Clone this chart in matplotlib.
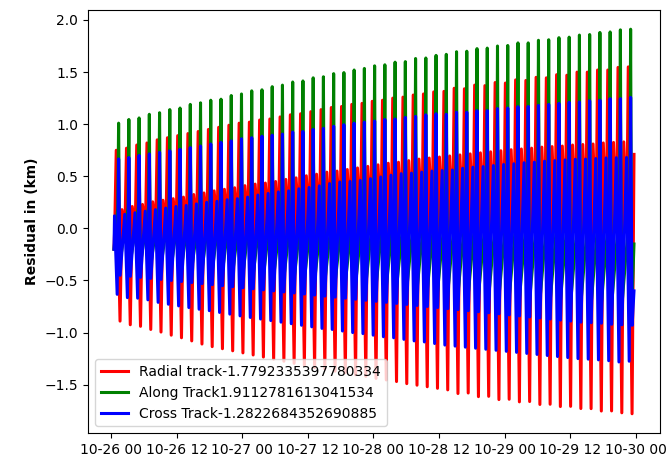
import matplotlib
matplotlib.use('Agg')
import matplotlib.pyplot as plt
import matplotlib.dates as mdates
import pandas as pd

# one entry per orbit, km
green_hi = [1.01, 1.045, 1.06, 1.095, 1.11, 1.14, 1.155, 1.19, 1.205, 1.23,
            1.24, 1.275, 1.29, 1.32, 1.33, 1.36, 1.375, 1.405, 1.415, 1.445,
            1.455, 1.485, 1.495, 1.52, 1.535, 1.56, 1.57, 1.595, 1.60, 1.63,
            1.635, 1.66, 1.67, 1.695, 1.70, 1.725, 1.73, 1.75, 1.755, 1.78,
            1.78, 1.805, 1.81, 1.83, 1.835, 1.855, 1.86, 1.88, 1.885, 1.905,
            1.9112781613041534]
green_lo = [-0.35, -0.36, -0.37, -0.38, -0.39, -0.40, -0.41, -0.42, -0.43, -0.44,
            -0.45, -0.46, -0.47, -0.48, -0.49, -0.50, -0.51, -0.52, -0.53, -0.54,
            -0.55, -0.56, -0.56, -0.57, -0.58, -0.59, -0.60, -0.61, -0.62, -0.63,
            -0.64, -0.65, -0.66, -0.67, -0.68, -0.69, -0.70, -0.70, -0.71, -0.72,
            -0.73, -0.74, -0.75, -0.75, -0.76, -0.77, -0.78, -0.78, -0.79, -0.80,
            -0.80]
red_hi = [0.75, 0.77, 0.80, 0.82, 0.85, 0.87, 0.89, 0.91, 0.93, 0.95,
          0.97, 0.99, 1.01, 1.02, 1.04, 1.05, 1.07, 1.09, 1.10, 1.12,
          1.14, 1.16, 1.17, 1.19, 1.20, 1.22, 1.23, 1.25, 1.26, 1.28,
          1.29, 1.31, 1.315, 1.345, 1.34, 1.375, 1.37, 1.40, 1.395, 1.425,
          1.42, 1.45, 1.445, 1.475, 1.47, 1.50, 1.50, 1.52, 1.52, 1.545,
          1.55]
red_mid = [0.18, 0.21, 0.23, 0.255, 0.27, 0.285, 0.30, 0.325, 0.34, 0.36,
           0.375, 0.39, 0.41, 0.425, 0.435, 0.45, 0.47, 0.485, 0.505, 0.52,
           0.54, 0.55, 0.565, 0.58, 0.595, 0.61, 0.625, 0.635, 0.65, 0.665,
           0.675, 0.685, 0.695, 0.705, 0.715, 0.725, 0.735, 0.745, 0.755, 0.762,
           0.77, 0.78, 0.785, 0.79, 0.80, 0.805, 0.81, 0.82, 0.825, 0.83,
           0.71]
red_lo = [-0.89, -0.925, -0.94, -0.97, -0.995, -1.025, -1.05, -1.08, -1.11, -1.135,
          -1.155, -1.175, -1.195, -1.215, -1.235, -1.255, -1.275, -1.295, -1.315, -1.335,
          -1.35, -1.37, -1.385, -1.405, -1.42, -1.44, -1.455, -1.47, -1.49, -1.505,
          -1.52, -1.535, -1.55, -1.585, -1.58, -1.615, -1.612, -1.643, -1.64, -1.665,
          -1.662, -1.69, -1.688, -1.71, -1.708, -1.729, -1.73, -1.753, -1.752, -1.77,
          -1.7792335397780334]
blue_hi = [0.667, 0.68, 0.70, 0.715, 0.73, 0.745, 0.76, 0.775, 0.79, 0.81,
           0.825, 0.84, 0.86, 0.87, 0.885, 0.895, 0.905, 0.925, 0.93, 0.95,
           0.96, 0.98, 0.995, 1.01, 1.02, 1.03, 1.045, 1.05, 1.065, 1.075,
           1.09, 1.10, 1.095, 1.115, 1.115, 1.13, 1.13, 1.15, 1.155, 1.168,
           1.17, 1.18, 1.19, 1.20, 1.21, 1.213, 1.225, 1.23, 1.245, 1.245,
           1.257]
blue_mid = [0.12, 0.135, 0.15, 0.165, 0.18, 0.195, 0.21, 0.22, 0.235, 0.25,
            0.26, 0.275, 0.285, 0.30, 0.32, 0.335, 0.35, 0.36, 0.38, 0.393,
            0.408, 0.43, 0.445, 0.45, 0.46, 0.477, 0.493, 0.51, 0.525, 0.53,
            0.54, 0.55, 0.555, 0.56, 0.577, 0.587, 0.593, 0.603, 0.613, 0.62,
            0.63, 0.635, 0.645, 0.65, 0.657, 0.663, 0.665, 0.67, 0.676, 0.678,
            0.68]
blue_lo = [-0.633, -0.665, -0.67, -0.686, -0.71, -0.728, -0.744, -0.76, -0.776, -0.79,
           -0.807, -0.823, -0.84, -0.855, -0.87, -0.885, -0.90, -0.915, -0.93, -0.945,
           -0.96, -0.97, -0.985, -1.00, -1.01, -1.025, -1.04, -1.05, -1.065, -1.08,
           -1.09, -1.105, -1.12, -1.13, -1.14, -1.15, -1.16, -1.17, -1.18, -1.19,
           -1.20, -1.21, -1.22, -1.23, -1.24, -1.25, -1.255, -1.262, -1.27, -1.2822684352690885,
           -1.275]
blue_lo2 = [-0.45, -0.46, -0.47, -0.48, -0.49, -0.50, -0.51, -0.52, -0.53, -0.54,
            -0.55, -0.56, -0.57, -0.58, -0.59, -0.60, -0.61, -0.62, -0.63, -0.64,
            -0.65, -0.66, -0.67, -0.68, -0.69, -0.70, -0.71, -0.72, -0.73, -0.74,
            -0.75, -0.76, -0.77, -0.78, -0.79, -0.80, -0.81, -0.82, -0.83, -0.84,
            -0.85, -0.86, -0.87, -0.88, -0.89, -0.90, -0.905, -0.91, -0.92, -0.925,
            -0.93]

# hidden levels (behind the blue band), rough guesses
start_val = -0.2
red_base = 0.0
green_base = 0.2
green_end = -0.15
blue_end = -0.6

labels = ['Radial track-1.7792335397780334',
          'Along Track1.9112781613041534',
          'Cross Track-1.2822684352690885']

orbit_start = pd.Timestamp('2022-10-26 01:20')
period = pd.Timedelta(minutes=112.5)
peaks = [orbit_start + k * period for k in range(len(green_hi))]
end_time = peaks[-1] + 0.33 * period


def build_track(points, last_val=None):
    times = [peaks[0] - 0.45 * period]
    vals = [start_val]
    for k in range(len(peaks)):
        for phase, v in points:
            t = peaks[k] + phase * period
            if t > end_time:
                continue
            times.append(t)
            vals.append(v[k] if isinstance(v, list) else v)
    if last_val is not None:
        times.append(end_time)
        vals.append(last_val)
    return [t.to_pydatetime() for t in times], vals


red_t, red_v = build_track([(-0.38, red_base), (-0.23, red_hi), (0.14, red_lo),
                            (0.33, red_mid)])
green_t, green_v = build_track([(-0.08, green_base), (0.0, green_hi), (0.10, green_lo)],
                               green_end)
blue_t, blue_v = build_track([(-0.40, blue_mid), (-0.14, blue_lo), (0.0, blue_hi),
                              (0.15, blue_lo2)], blue_end)

fig = plt.figure(figsize=(6.72, 4.63), dpi=100)
ax = fig.add_subplot(111)
fig.subplots_adjust(left=88/672, right=660/672, top=1-10/463, bottom=1-433/463)

ax.plot(red_t, red_v, color='red', linewidth=2.2, label=labels[0])
ax.plot(green_t, green_v, color='green', linewidth=2.2, label=labels[1])
ax.plot(blue_t, blue_v, color='blue', linewidth=2.2, label=labels[2])

ax.xaxis.set_major_locator(mdates.HourLocator(byhour=[0, 12]))
ax.xaxis.set_major_formatter(mdates.DateFormatter('%m-%d %H'))
ax.set_ylabel('Residual in (km)', fontweight='bold')
ax.legend(loc='lower left')

fig.savefig('out.png', dpi=100)
